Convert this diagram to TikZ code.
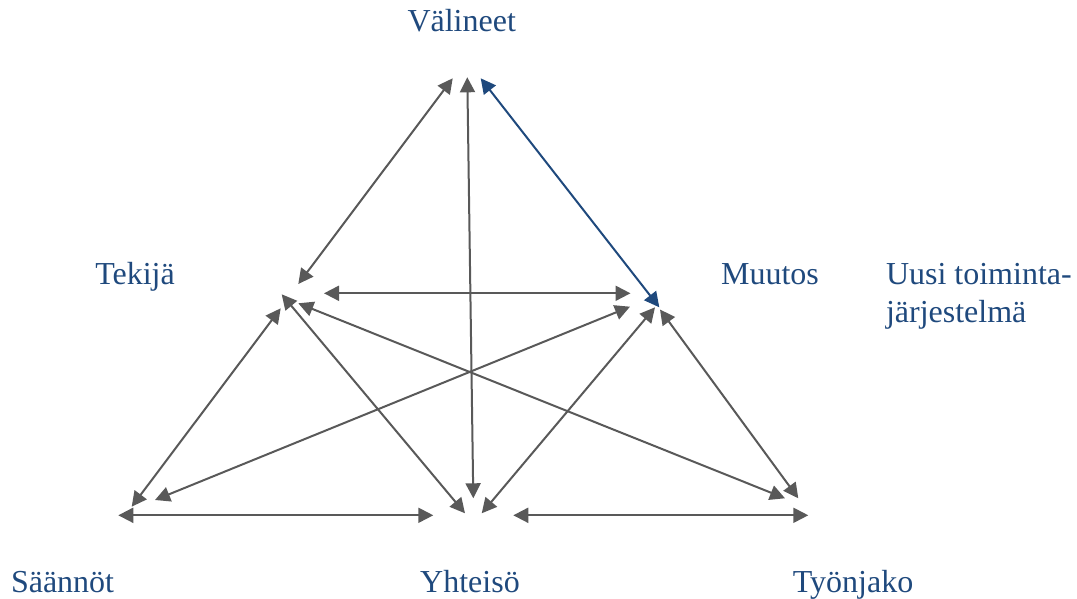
\documentclass[tikz,border=0pt]{standalone}
\usepackage{fontspec}
\setmainfont{Liberation Serif}
\usetikzlibrary{arrows.meta}

\definecolor{darkblue}{HTML}{1F497D}
\definecolor{arrowgray}{HTML}{595959}

\begin{document}
\begin{tikzpicture}[<->,>={Triangle[length=7.5pt,width=7.5pt]},x=0.5pt,y=-0.5pt,
        line width=1pt,
        term/.style={font=\fontsize{16}{18.85}\selectfont,text=darkblue,inner sep=0pt}]

  \useasboundingbox (0,0) rectangle (1077,599);

  % the six words
  \node[term,anchor=base] (valineet) at (461.7,31.7) {Välineet};
  \node[term,anchor=base] (tekija) at (135,285) {Tekijä};
  \node[term,anchor=base] (muutos) at (770,285) {Muutos};
  \node[term,anchor=base west,align=left] (uusi) at (885,322.7) {Uusi toiminta-\\järjestelmä};
  \node[term,anchor=base west] (saannot) at (10,592) {Säännöt};
  \node[term,anchor=base] (yhteiso) at (470,592) {Yhteisö};
  \node[term,anchor=base] (tyonjako) at (853,592) {Työnjako};

  % arrow ends round each corner
  \foreach \n/\x/\y in {val-tek/452.7/78.3, val-yht/467.3/77.3, val-muu/480.7/78.3,
      tek-val/298.3/284, tek-muu/324/293.3, tek-saa/280.7/308.3, tek-yht/281.7/294.3, tek-tyo/298.3/303.3,
      muu-val/659.3/307.3, muu-tek/630.5/293.3, muu-saa/630/306.7, muu-yht/655/307.3, muu-tyo/660/309.5,
      saa-tek/131.7/506.7, saa-muu/155/500, saa-yht/118.3/515.3,
      yht-val/473.3/498.3, yht-tek/465/513.3, yht-muu/481.7/513.3, yht-saa/433.3/515.3, yht-tyo/513.3/515.3,
      tyo-tek/785/498.3, tyo-muu/798.3/498.3, tyo-yht/808.3/515.3}
    \coordinate (\n) at (\x,\y);

  \path[arrowgray] (val-tek) edge (tek-val)
        (val-yht) edge (yht-val)
        (tek-muu) edge (muu-tek)
        (tek-saa) edge (saa-tek)
        (tek-yht) edge (yht-tek)
        (tek-tyo) edge (tyo-tek)
        (muu-saa) edge (saa-muu)
        (muu-yht) edge (yht-muu)
        (muu-tyo) edge (tyo-muu)
        (saa-yht) edge (yht-saa)
        (yht-tyo) edge (tyo-yht);
  \path[darkblue] (val-muu) edge (muu-val);

\end{tikzpicture}
\end{document}
